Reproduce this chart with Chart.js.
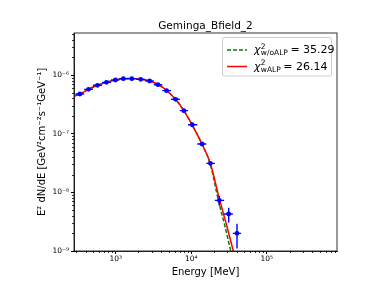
<!DOCTYPE html>
<html>
<head>
<meta charset="utf-8">
<script src="https://cdn.jsdelivr.net/npm/chart.js@4.4.1/dist/chart.umd.min.js"></script>
<style>
  html, body { margin: 0; padding: 0; background: #fff; }
</style>
</head>
<body>
<canvas id="sedChart" width="374" height="282"></canvas>
<script>
// flux points (MeV, GeV cm^-2 s^-1)
const energy = [335, 436, 573, 753, 990, 1260, 1630, 2140, 2810, 3620, 4710, 6190, 7970, 10300, 13900, 17900, 23500, 31300, 40300];
const flux = [4.74e-7, 5.70e-7, 6.67e-7, 7.50e-7, 8.22e-7, 8.66e-7, 8.66e-7, 8.44e-7, 7.90e-7, 6.84e-7, 5.41e-7, 3.85e-7, 2.47e-7, 1.42e-7, 6.67e-8, 3.12e-8, 7.3e-9, 4.27e-9, 2.0e-9];
const fluxErr = [1.5e-8, 1.6e-8, 1.8e-8, 1.9e-8, 2.0e-8, 2.1e-8, 2.1e-8, 2.1e-8, 2.0e-8, 1.9e-8, 1.6e-8, 1.3e-8, 1.0e-8, 7e-9, 4.5e-9, 2.6e-9, 1.4e-9, 1.2e-9, 0.9e-9];
const binEdges = [293, 382, 500, 658, 865, 1117, 1432, 1866, 2455, 3192, 4130, 5408, 7031, 9057, 11990, 15810, 20560, 27160, 35480, 45710];

// model curves
const alpE = [280, 335, 436, 573, 753, 990, 1260, 1630, 2140, 2810, 3620, 4710, 6190, 7970, 10300, 13900, 17900, 23700, 29500, 36000];
const alpF = [4.38e-7, 4.74e-7, 5.70e-7, 6.67e-7, 7.50e-7, 8.22e-7, 8.64e-7, 8.68e-7, 8.44e-7, 7.90e-7, 6.90e-7, 5.45e-7, 3.85e-7, 2.47e-7, 1.40e-7, 6.6e-8, 3.1e-8, 7.5e-9, 2.7e-9, 1.0e-9];
const noAlpE = [280, 335, 436, 573, 753, 990, 1260, 1630, 2140, 2810, 3620, 4710, 6190, 7970, 10300, 13900, 17800, 22800, 28000, 33300];
const noAlpF = [4.38e-7, 4.74e-7, 5.70e-7, 6.67e-7, 7.50e-7, 8.22e-7, 8.64e-7, 8.68e-7, 8.44e-7, 7.90e-7, 6.90e-7, 5.45e-7, 3.85e-7, 2.47e-7, 1.40e-7, 6.6e-8, 3.05e-8, 7.4e-9, 2.6e-9, 1.0e-9];

const xTicks = [1e3, 1e4, 1e5];
const xTickLabels = ['10³', '10⁴', '10⁵'];
const yTicks = [1e-9, 1e-8, 1e-7, 1e-6];
const yTickLabels = ['10⁻⁹', '10⁻⁸', '10⁻⁷', '10⁻⁶'];

const titleText = 'Geminga_Bfield_2';
const legendSubs = ['w/oALP', 'wALP'];
const legendValues = ['35.29', '26.14'];
const legendColors = ['#008000', '#ff0000'];
const legendDash = [[4, 2], []];

const FONT = 'DejaVu Sans';

function pts(xs, ys) {
  return xs.map((x, i) => ({ x: x, y: ys[i] }));
}

// minor ticks, full frame, title over the axes
const framePlugin = {
  id: 'frame',
  afterDraw(chart) {
    const { ctx, chartArea: a, scales } = chart;
    ctx.save();
    ctx.strokeStyle = '#000';
    ctx.lineWidth = 0.8;
    ctx.beginPath();
    for (let d = 2; d <= 5; d++) {
      for (let k = 2; k <= 9; k++) {
        const v = k * Math.pow(10, d);
        if (v < scales.x.min || v > scales.x.max) continue;
        const px = Math.round(scales.x.getPixelForValue(v)) + 0.5;
        ctx.moveTo(px, a.bottom);
        ctx.lineTo(px, a.bottom + 2);
      }
    }
    for (let d = -9; d <= -6; d++) {
      for (let k = 2; k <= 9; k++) {
        const v = k * Math.pow(10, d);
        if (v < scales.y.min || v > scales.y.max) continue;
        const py = Math.round(scales.y.getPixelForValue(v)) + 0.5;
        ctx.moveTo(a.left, py);
        ctx.lineTo(a.left - 2, py);
      }
    }
    ctx.stroke();
    ctx.strokeRect(a.left, a.top, a.right - a.left, a.bottom - a.top);

    ctx.fillStyle = '#000';
    ctx.font = '10.5px "' + FONT + '"';
    ctx.textAlign = 'center';
    ctx.textBaseline = 'alphabetic';
    ctx.fillText(titleText, (a.left + a.right) / 2, a.top - 4);
    ctx.restore();
  }
};

// error bars, drawn under the markers
const errorBarPlugin = {
  id: 'errorBars',
  beforeDatasetDraw(chart, args) {
    if (args.index !== 0) return;
    const { ctx, scales } = chart;
    ctx.save();
    ctx.strokeStyle = '#0000ff';
    ctx.lineWidth = 1.4;
    ctx.beginPath();
    energy.forEach((e, i) => {
      const px = scales.x.getPixelForValue(e);
      const py = scales.y.getPixelForValue(flux[i]);
      ctx.moveTo(scales.x.getPixelForValue(binEdges[i]), py);
      ctx.lineTo(scales.x.getPixelForValue(binEdges[i + 1]), py);
      const lo = Math.max(flux[i] - fluxErr[i], scales.y.min);
      ctx.moveTo(px, scales.y.getPixelForValue(lo));
      ctx.lineTo(px, scales.y.getPixelForValue(flux[i] + fluxErr[i]));
    });
    ctx.stroke();
    ctx.restore();
  }
};

// legend with chi^2 sub/superscripts
const mathLegendPlugin = {
  id: 'mathLegend',
  afterDraw(chart) {
    const ctx = chart.ctx;
    const bx = 222.5, by = 37.5, bw = 109, bh = 38.5;
    ctx.save();
    ctx.fillStyle = 'rgba(255,255,255,0.8)';
    ctx.strokeStyle = '#cccccc';
    ctx.lineWidth = 1;
    ctx.beginPath();
    ctx.roundRect(bx, by, bw, bh, 2);
    ctx.fill();
    ctx.stroke();
    legendSubs.forEach((sub, i) => {
      const cy = 50 + i * 16.5;
      ctx.strokeStyle = legendColors[i];
      ctx.lineWidth = 1.5;
      ctx.setLineDash(legendDash[i]);
      ctx.beginPath();
      ctx.moveTo(227, cy);
      ctx.lineTo(247, cy);
      ctx.stroke();
      ctx.setLineDash([]);
      ctx.fillStyle = '#000';
      ctx.textBaseline = 'alphabetic';
      let x = 254;
      const base = cy + 3;
      ctx.font = 'italic 11px "' + FONT + '"';
      ctx.fillText('χ', x, base);
      x += ctx.measureText('χ').width + 0.3;
      ctx.font = '7.5px "' + FONT + '"';
      ctx.fillText('2', x, base - 4.5);
      ctx.fillText(sub, x, base + 2);
      x += ctx.measureText(sub).width + 2.5;
      ctx.font = '11px "' + FONT + '"';
      ctx.fillText('= ' + legendValues[i], x, base);
    });
    ctx.restore();
  }
};

new Chart(document.getElementById('sedChart'), {
  type: 'scatter',
  data: {
    datasets: [
      {
        label: 'data',
        data: pts(energy, flux),
        showLine: false,
        pointRadius: 2.4,
        pointBackgroundColor: '#0000ff',
        pointBorderWidth: 0
      },
      {
        label: 'wALP',
        data: pts(alpE, alpF),
        showLine: true,
        borderColor: '#ff0000',
        borderWidth: 1.5,
        pointRadius: 0,
        cubicInterpolationMode: 'monotone'
      },
      {
        label: 'w/oALP',
        data: pts(noAlpE, noAlpF),
        showLine: true,
        borderColor: '#008000',
        borderWidth: 1.5,
        borderDash: [4, 2],
        pointRadius: 0,
        cubicInterpolationMode: 'monotone'
      }
    ]
  },
  options: {
    responsive: false,
    devicePixelRatio: 1,
    animation: false,
    layout: { padding: { left: 0, right: 37, top: 33, bottom: 0 } },
    plugins: {
      legend: { display: false },
      tooltip: { enabled: false },
      title: { display: false }
    },
    scales: {
      x: {
        type: 'logarithmic',
        min: 280,
        max: 8.5e5,
        afterBuildTicks: s => { s.ticks = xTicks.map(v => ({ value: v })); },
        afterFit: s => { s.height = 31; },
        ticks: {
          color: '#000',
          font: { family: FONT, size: 7.5 },
          padding: 1,
          maxRotation: 0,
          callback: v => xTickLabels[xTicks.indexOf(v)] || ''
        },
        grid: { drawOnChartArea: false, tickLength: 3, color: '#000' },
        border: { color: '#000', width: 0.8 },
        title: {
          display: true,
          text: 'Energy [MeV]',
          color: '#000',
          font: { family: FONT, size: 10 },
          padding: { top: 0, bottom: 4 }
        }
      },
      y: {
        type: 'logarithmic',
        min: 1e-9,
        max: 5.2e-6,
        afterBuildTicks: s => { s.ticks = yTicks.map(v => ({ value: v })); },
        afterFit: s => { s.width = 74; },
        ticks: {
          color: '#000',
          font: { family: FONT, size: 7.5 },
          padding: 2,
          callback: v => yTickLabels[yTicks.indexOf(v)] || ''
        },
        grid: { drawOnChartArea: false, tickLength: 3, color: '#000' },
        border: { color: '#000', width: 0.8 },
        title: {
          display: true,
          text: 'E² dN/dE [GeV²cm⁻²s⁻¹GeV⁻¹]',
          color: '#000',
          font: { family: FONT, size: 10 },
          padding: { top: 36, bottom: 0 }
        }
      }
    }
  },
  plugins: [errorBarPlugin, framePlugin, mathLegendPlugin]
});
</script>
</body>
</html>
